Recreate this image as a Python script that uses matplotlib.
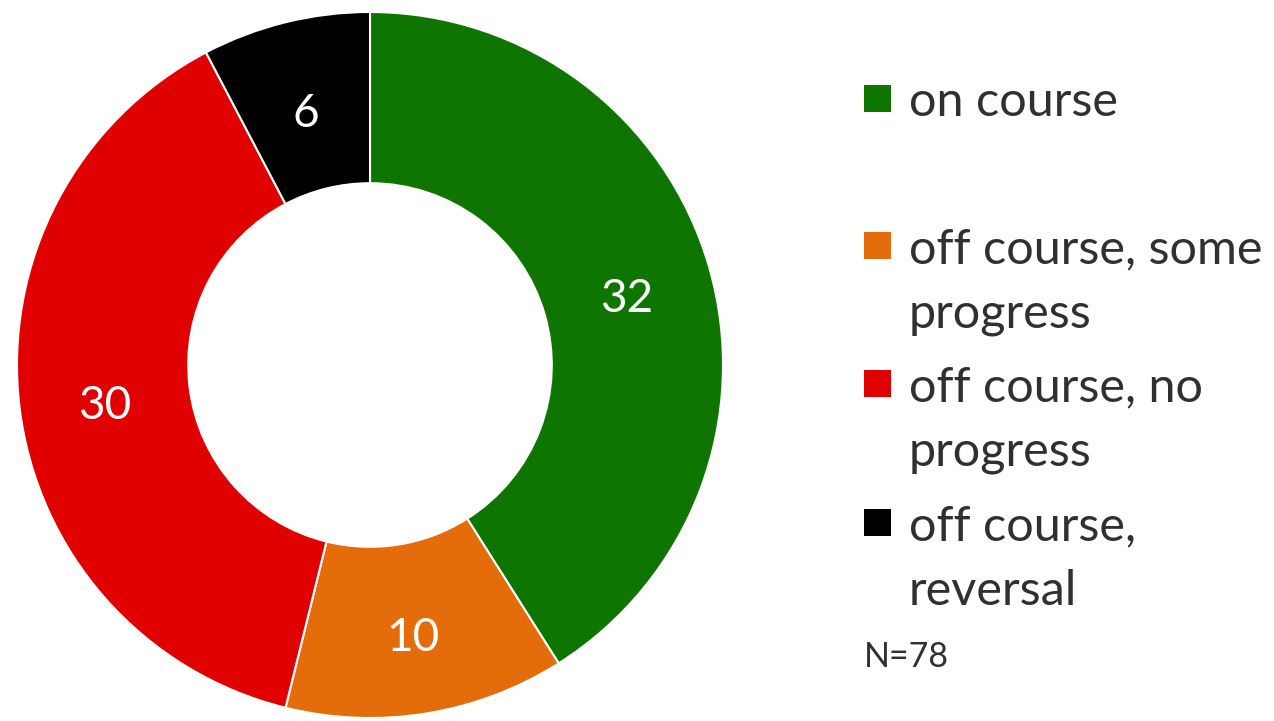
import matplotlib.pyplot as plt
from matplotlib.patches import Rectangle

categories = ["on course", "off course, some\nprogress", "off course, no\nprogress", "off course,\nreversal"]
values = [32, 10, 30, 6]
colors = ["#0E7600", "#E46C0A", "#E00000", "#000000"]
note = "N=78"

plt.rcParams['font.family'] = ['Lato', 'DejaVu Sans']

W, H = 1274, 721
fig = plt.figure(figsize=(W / 100, H / 100), dpi=100)

# donut, placed by pixel: centre (370, 365), radius 353
cx, cy, r = 370, 365, 353
ax = fig.add_axes([(cx - r) / W, (H - cy - r) / H, 2 * r / W, 2 * r / H])
total = sum(values)
wedges, _, autotexts = ax.pie(
    values, colors=colors, startangle=90, counterclock=False, radius=1,
    autopct=lambda p: f"{round(p * total / 100)}", pctdistance=0.757,
    wedgeprops=dict(width=0.485, edgecolor="white", linewidth=1.5),
    textprops=dict(color="white", fontsize=33))
for t in autotexts:
    x, y = t.get_position()
    t.set_position((x, y - 0.025))
ax.set_xlim(-1, 1)
ax.set_ylim(-1, 1)
ax.set_aspect("equal")
ax.axis("off")

# legend drawn by hand, Excel-like spacing (pixel baselines)
first_base = [116, 263, 401, 540]
line_gap = 65
for label, col, yb in zip(categories, colors, first_base):
    fig.patches.append(Rectangle((864 / W, (H - yb + 4) / H), 27 / W, 27 / H,
                                 transform=fig.transFigure, facecolor=col, edgecolor="none"))
    for i, line in enumerate(label.split("\n")):
        fig.text(909 / W, (H - yb - i * line_gap) / H, line, fontsize=35,
                 color="#303030", va="baseline", ha="left")

fig.text(864 / W, (H - 667) / H, note, fontsize=24.5, color="#303030", va="baseline", ha="left")

fig.savefig("out.png", dpi=100)
